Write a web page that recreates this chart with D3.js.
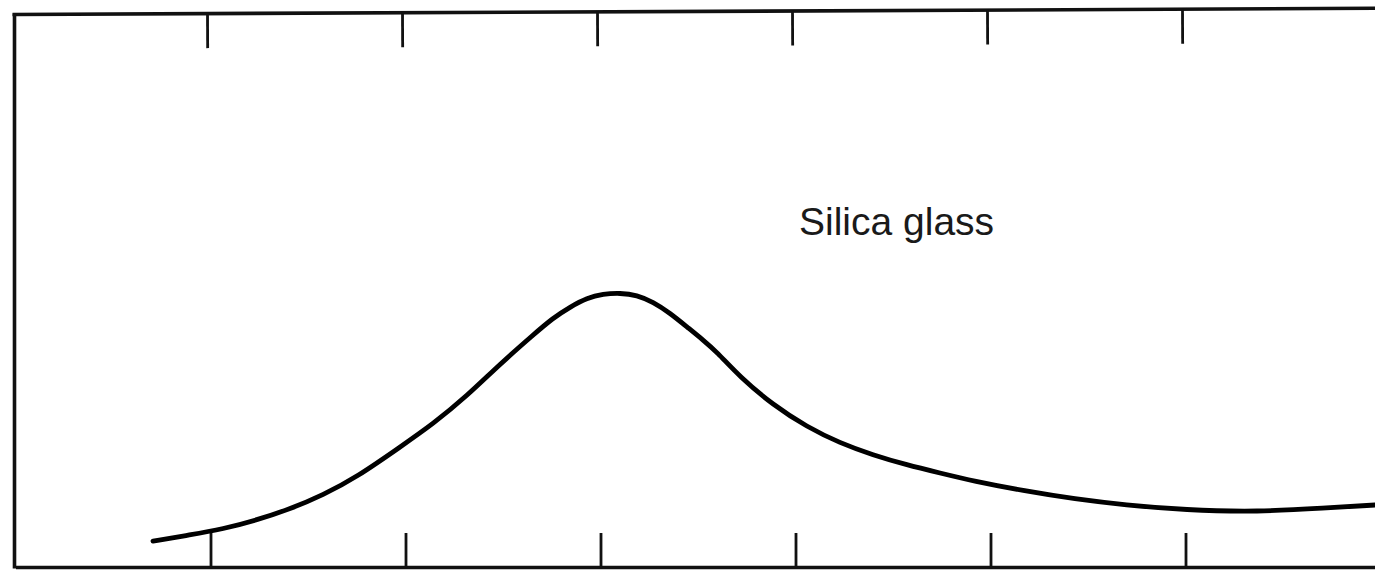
<!DOCTYPE html>
<html>
<head>
<meta charset="utf-8">
<script src="https://cdn.jsdelivr.net/npm/d3@7"></script>
<style>
  html, body { margin: 0; padding: 0; background: #fff; }
  svg { display: block; }
</style>
</head>
<body>
<svg id="chart" width="1375" height="570"></svg>
<script>
// Data (arbitrary units: x in tick intervals, y as % of frame height)
const tickValues = [1, 2, 3, 4, 5, 6];
const curveX = [0.723, 0.913, 1.082, 1.256, 1.426, 1.595, 1.769, 1.990, 2.159, 2.333, 2.503, 2.672, 2.774, 2.862, 2.949, 3.031, 3.118, 3.205, 3.287, 3.374, 3.462, 3.544, 3.615, 3.733, 3.903, 4.077, 4.246, 4.415, 4.590, 4.759, 4.928, 5.195, 5.451, 5.708, 6.015, 6.390, 6.733, 6.990];
const curveY = [4.68, 5.77, 6.85, 8.47, 10.45, 12.97, 16.22, 21.62, 25.77, 30.81, 36.58, 41.80, 44.86, 46.85, 48.47, 49.19, 49.37, 49.01, 47.75, 45.77, 43.24, 40.90, 38.74, 34.23, 29.19, 25.23, 22.34, 20.18, 18.38, 16.94, 15.50, 13.69, 12.25, 11.17, 10.27, 9.91, 10.63, 11.17];
const label = "Silica glass";

const svg = d3.select("#chart");
const mLeft = 14, mRight = 1379, mTop = 12, mBottom = 567;

const x = d3.scaleLinear().domain([0, 7]).range([mLeft - 2, mRight - 2]);
const y = d3.scaleLinear().domain([0, 100]).range([mBottom, mTop]);

// Top axis (frame top with inward ticks), slightly tilted like the scan
const gTop = svg.append("g")
  .attr("transform", `translate(0,${mTop + 2}) rotate(-0.26, ${mLeft}, 0)`)
  .call(d3.axisTop(x).tickValues(tickValues).tickSizeInner(-35).tickSizeOuter(0).tickFormat(""));
gTop.select(".domain").attr("stroke", "#111").attr("stroke-width", 3.6);
gTop.selectAll(".tick line").attr("stroke", "#111").attr("stroke-width", 2.8);

// Bottom axis (frame bottom with inward ticks)
const gBot = svg.append("g")
  .attr("transform", `translate(3.5,${mBottom})`)
  .call(d3.axisBottom(x).tickValues(tickValues).tickSizeInner(-34).tickSizeOuter(0).tickFormat(""));
gBot.select(".domain").attr("stroke", "#111").attr("stroke-width", 3.6);
gBot.selectAll(".tick line").attr("stroke", "#111").attr("stroke-width", 2.8);

// Left frame
const gLeft = svg.append("g")
  .attr("transform", `translate(${mLeft},0)`)
  .call(d3.axisLeft(d3.scaleLinear().domain([0, 100]).range([mBottom + 1, mTop + 1])).tickValues([]).tickSizeOuter(0));
gLeft.select(".domain").attr("stroke", "#111").attr("stroke-width", 3.6);

// Curve
const pts = curveX.map((v, i) => [v, curveY[i]]);
const line = d3.line().x(d => x(d[0])).y(d => y(d[1])).curve(d3.curveBasis);
svg.append("path")
  .datum(pts)
  .attr("d", line)
  .attr("fill", "none")
  .attr("stroke", "#000")
  .attr("stroke-width", 4.8)
  .attr("stroke-linecap", "round")
  .attr("stroke-linejoin", "round");

// Label
svg.append("text")
  .attr("x", 799)
  .attr("y", 235)
  .attr("font-family", "'Liberation Sans', Arial, sans-serif")
  .attr("font-size", 39)
  .attr("fill", "#1a1a1a")
  .text(label);
</script>
</body>
</html>
